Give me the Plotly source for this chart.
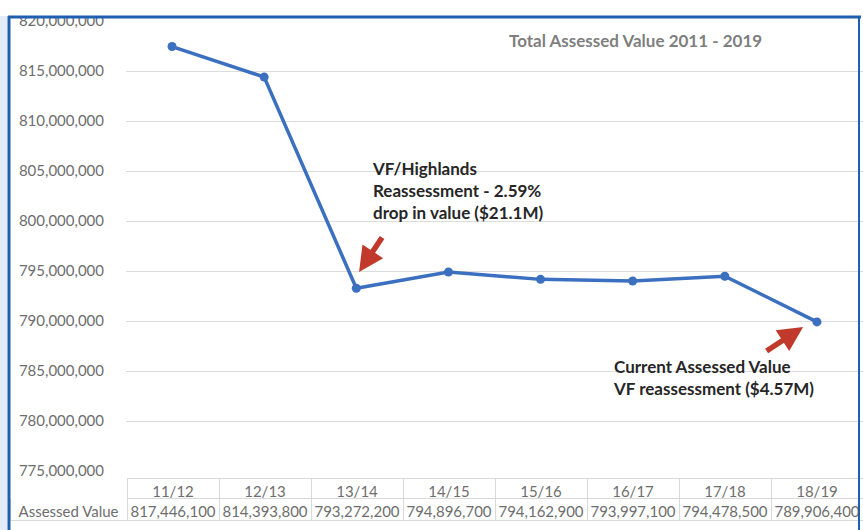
import plotly.graph_objects as go

categories = ["11/12", "12/13", "13/14", "14/15", "15/16", "16/17", "17/18", "18/19"]
assessed_values = [817446100, 814393800, 793272200, 794896700, 794162900, 793997100, 794478500, 789906400]
y_tick_values = list(range(775000000, 820000001, 5000000))
row_label = "Assessed\u00a0Value"
title_text = "Total Assessed Value 2011 - 2019"
note1 = "VF/Highlands<br>Reassessment - 2.59%<br>drop in value ($21.1M)"
note2 = "Current Assessed Value<br>VF reassessment ($4.57M)"

W, H = 863, 530
MT, MB = 21, 8
PH = H - MT - MB


def px(x):
    return x / W


def py(y):
    return (H - MB - y) / PH


FONT = "Lato"
GRAY = "#6e6e6e"
LINE = "#3b6fbf"

fig = go.Figure()

fig.add_trace(go.Scatter(
    x=categories, y=assessed_values, mode="lines+markers",
    line=dict(color=LINE, width=3.5),
    marker=dict(color=LINE, size=9),
    xaxis="x", yaxis="y", showlegend=False, hoverinfo="x+y",
))

fmt = [f"{v:,}" for v in assessed_values]
border = "#d9d9d9"
fig.add_trace(go.Table(
    domain=dict(x=[px(10), 1], y=[0, py(478)]),
    columnwidth=[117] + [92] * len(categories),
    header=dict(
        values=[""] + categories,
        fill_color="white",
        line=dict(color=["white"] + [border] * len(categories), width=1),
        font=dict(family=FONT, size=15, color=GRAY),
        align="center", height=20,
    ),
    cells=dict(
        values=[[row_label]] + [[f] for f in fmt],
        fill_color="white",
        line=dict(color=border, width=1),
        font=dict(family=FONT, size=15, color=GRAY),
        align="center", height=22,
    ),
))

fig.update_layout(
    width=W, height=H,
    margin=dict(l=0, r=0, t=MT, b=MB),
    paper_bgcolor="white", plot_bgcolor="white",
    font=dict(family=FONT, color=GRAY),
    xaxis=dict(
        domain=[px(126), 1], type="category", range=[-0.5, 7.5],
        showticklabels=False, showgrid=False, zeroline=False, showline=False, ticks="",
    ),
    yaxis=dict(
        domain=[py(471), 1], range=[775000000, 820000000],
        tickvals=y_tick_values, tickformat=",d",
        showgrid=True, gridcolor="#dcdcdc", gridwidth=1, zeroline=False,
        showline=False, ticks="", ticklabelstandoff=21,
        tickfont=dict(family=FONT, size=15, color=GRAY),
    ),
)

# Title inside plot
fig.add_annotation(
    text="<b>" + title_text + "</b>", xref="paper", yref="paper", x=px(635), y=py(41),
    showarrow=False, font=dict(family=FONT, size=17, color="#7f7f7f"),
    xanchor="center", yanchor="middle",
)

# Notes
fig.add_annotation(
    text="<b>" + note1 + "</b>", xref="paper", yref="paper", x=px(370), y=py(156),
    showarrow=False, align="left", xanchor="left", yanchor="top",
    font=dict(family=FONT, size=17, color="#262626"),
)
fig.add_annotation(
    text="<b>" + note2 + "</b>", xref="paper", yref="paper", x=px(611), y=py(354),
    showarrow=False, align="left", xanchor="left", yanchor="top",
    font=dict(family=FONT, size=17, color="#262626"),
)

# Red arrows
fig.add_annotation(
    text="", x=2.03, y=794900000, xref="x", yref="y",
    ax=24, ay=-36, showarrow=True, arrowhead=2, arrowsize=0.9, arrowwidth=5.5,
    arrowcolor="#c0392b",
)
fig.add_annotation(
    text="", x=6.85, y=789400000, xref="x", yref="y",
    ax=-38, ay=25, showarrow=True, arrowhead=2, arrowsize=0.9, arrowwidth=5.5,
    arrowcolor="#c0392b",
)

# Frame decoration
shapes = [
    dict(type="rect", xref="paper", yref="paper", x0=0, x1=1, y0=py(16), y1=py(-5),
         fillcolor="white", line=dict(width=0), layer="above"),
    dict(type="rect", xref="paper", yref="paper", x0=0, x1=px(7), y0=py(540), y1=py(16),
         fillcolor="#e3ecf7", line=dict(width=0), layer="above"),
    dict(type="line", xref="paper", yref="paper", x0=px(9), x1=px(9), y0=py(535), y1=py(16),
         line=dict(color="#1f5fb0", width=3), layer="above"),
    dict(type="line", xref="paper", yref="paper", x0=px(8), x1=px(861), y0=py(17), y1=py(17),
         line=dict(color="#1f5fb0", width=3), layer="above"),
    dict(type="line", xref="paper", yref="paper", x0=px(859), x1=px(859), y0=py(535), y1=py(16),
         line=dict(color="#1f5fb0", width=2), layer="above"),
]
fig.update_layout(shapes=shapes)

fig.write_html(
    "out.html",
    config={"displayModeBar": False},
    post_script="document.body.style.margin='0';document.body.style.overflow='hidden';",
)
